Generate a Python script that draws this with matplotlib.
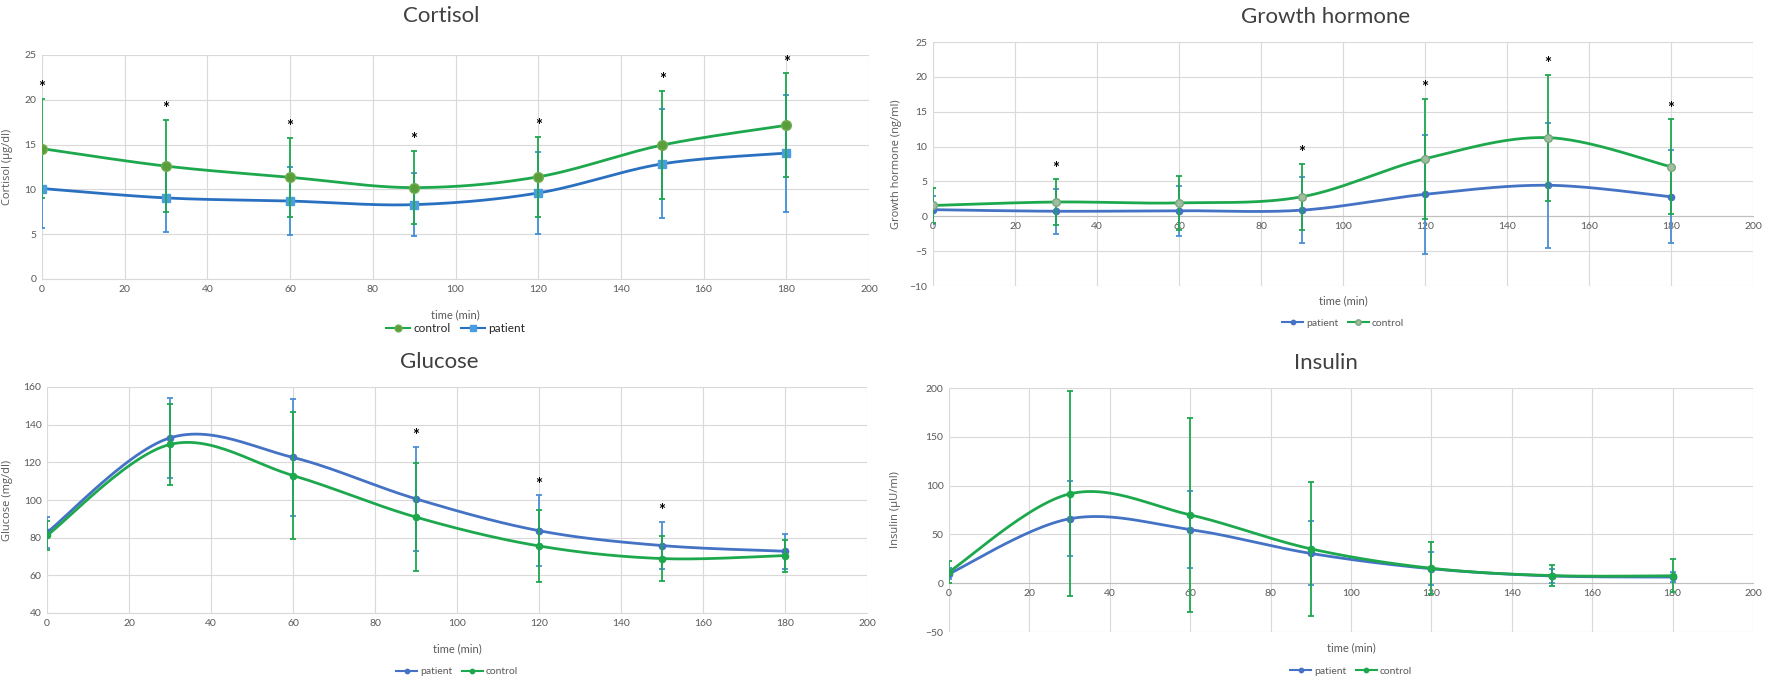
import matplotlib
matplotlib.use('Agg')
import matplotlib.pyplot as plt
from matplotlib.lines import Line2D
import numpy as np

# time points (min)
time = [0, 30, 60, 90, 120, 150, 180]

# Cortisol (ug/dl)
cortisol_patient = [10.1, 9.05, 8.7, 8.3, 9.6, 12.85, 14.05]
cortisol_patient_sd = [4.4, 3.8, 3.75, 3.55, 4.58, 6.09, 6.54]
cortisol_control = [14.55, 12.6, 11.35, 10.2, 11.4, 14.95, 17.15]
cortisol_control_sd = [5.55, 5.15, 4.42, 4.1, 4.43, 6.05, 5.8]
cortisol_sig = [0, 30, 60, 90, 120, 150, 180]

# Growth hormone (ng/ml)
gh_patient = [0.95, 0.72, 0.8, 0.88, 3.15, 4.45, 2.8]
gh_patient_sd = [2.0, 3.2, 3.6, 4.7, 8.55, 8.95, 6.65]
gh_control = [1.55, 2.05, 1.92, 2.8, 8.25, 11.28, 7.1]
gh_control_sd = [2.5, 3.25, 3.9, 4.75, 8.6, 9.05, 6.8]
gh_sig = [30, 90, 120, 150, 180]

# Glucose (mg/dl)
glucose_patient = [82.8, 133.0, 122.6, 100.6, 83.7, 75.8, 72.8]
glucose_patient_sd = [8.2, 21.1, 30.9, 27.8, 18.8, 12.5, 9.3]
glucose_control = [81.2, 129.5, 113.0, 90.9, 75.6, 68.9, 70.5]
glucose_control_sd = [7.7, 21.6, 33.6, 28.5, 19.3, 11.9, 8.5]
glucose_sig = [90, 120, 150]

# Insulin (uU/ml)
insulin_patient = [9.6, 66.0, 55.0, 30.5, 14.8, 7.4, 6.3]
insulin_patient_sd = [5.8, 38.6, 39.6, 32.8, 16.9, 6.9, 5.5]
insulin_control = [11.6, 91.5, 70.0, 35.2, 15.3, 7.8, 7.6]
insulin_control_sd = [11.6, 105.0, 99.0, 68.6, 26.8, 10.5, 16.8]

W, H = 1772, 687
fig = plt.figure(figsize=(W / 100, H / 100), dpi=100)
plt.rcParams['font.family'] = ['Lato', 'DejaVu Sans']

GREEN = '#1ea84e'
BLUE_C = '#2a70c0'
BLUE = '#4472c4'
TICK = '#595959'
GRID = '#d9d9d9'


def smooth(x, y, n=30):
    # Excel-like smoothed line (Catmull-Rom through the points)
    x = np.asarray(x, float)
    y = np.asarray(y, float)
    px = np.concatenate([[x[0]], x, [x[-1]]])
    py = np.concatenate([[y[0]], y, [y[-1]]])
    xs, ys = [], []
    for i in range(1, len(px) - 2):
        p0, p1, p2, p3 = [np.array([px[j], py[j]]) for j in (i - 1, i, i + 1, i + 2)]
        c1 = p1 + (p2 - p0) / 6
        c2 = p2 - (p3 - p1) / 6
        t = np.linspace(0, 1, n)[:, None]
        b = (1 - t) ** 3 * p1 + 3 * (1 - t) ** 2 * t * c1 + 3 * (1 - t) * t ** 2 * c2 + t ** 3 * p2
        xs.append(b[:, 0])
        ys.append(b[:, 1])
    return np.concatenate(xs), np.concatenate(ys)


def panel(rect, title, title_xy, ylabel, ylabel_x, ylim, ystep, series,
          sig, zero_axis, xlabel_y, legend_y, legend_size, legend_color):
    ax = fig.add_axes(rect)
    ax.set_xlim(0, 200)
    ax.set_ylim(*ylim)
    ax.set_xticks(np.arange(0, 201, 20))
    ax.set_yticks(np.arange(ylim[0], ylim[1] + 0.01, ystep))
    ax.grid(True, color=GRID, linewidth=0.8)
    ax.set_axisbelow(True)
    for s in ['top', 'right', 'left']:
        ax.spines[s].set_visible(False)
    if zero_axis:
        ax.spines['bottom'].set_position(('data', 0))
        ax.spines['bottom'].set_color('#bfbfbf')
    else:
        ax.spines['bottom'].set_color(GRID)
    ax.tick_params(length=0, labelsize=7.5, labelcolor=TICK, pad=4)

    handles = []
    tops = np.zeros(len(time))
    for s in series:
        sx, sy = smooth(time, s['y'])
        ax.plot(sx, sy, color=s['line'], lw=2, zorder=s['z'], solid_capstyle='round')
        ax.errorbar(time, s['y'], yerr=s['sd'], fmt='none', ecolor=s['err'],
                    elinewidth=1.3, capsize=2, capthick=1.3, zorder=s['z'])
        ax.plot(time, s['y'], ls='none', marker=s['marker'], ms=s['ms'],
                mfc=s['mfc'], mec=s['mec'], zorder=s['z'] + 0.5)
        tops = np.maximum(tops, np.array(s['y']) + np.array(s['sd']))
        handles.append(Line2D([], [], color=s['line'], lw=1.5, marker=s['marker'],
                              ms=s['ms'] * 0.7, mfc=s['mfc'], mec=s['mec'], label=s['name']))

    for t in sig:
        i = time.index(t)
        ax.annotate('*', xy=(t, tops[i]), xytext=(0, 2), textcoords='offset points',
                    ha='center', va='bottom', fontsize=12, fontweight='bold', color='black')

    ax.set_xlabel('time (min)', fontsize=8, color=TICK)
    ax.xaxis.set_label_coords(0.5, xlabel_y)
    ax.set_ylabel(ylabel, fontsize=8, color=TICK, family=['Open Sans', 'DejaVu Sans'])
    ax.yaxis.set_label_coords(ylabel_x, 0.5)
    ax.legend(handles=handles, loc='center', bbox_to_anchor=(0.5, legend_y), ncol=2,
              frameon=False, fontsize=legend_size, labelcolor=legend_color,
              handlelength=2.0, columnspacing=0.9, handletextpad=0.3,
              borderpad=0.1)
    fig.text(title_xy[0] / W, 1 - title_xy[1] / H, title, ha='center', va='center',
             fontsize=16, color='#404040')
    return ax


# Cortisol
panel([42 / W, 1 - 279 / H, 827 / W, 224 / H], 'Cortisol', (441, 16),
      'Cortisol (µg/dl)', -0.035, (0, 25), 5,
      [dict(name='control', y=cortisol_control, sd=cortisol_control_sd, line=GREEN,
            err=GREEN, marker='o', ms=7, mfc='#5a9e3c', mec='#6fae4f', z=4),
       dict(name='patient', y=cortisol_patient, sd=cortisol_patient_sd, line=BLUE_C,
            err='#3f8fd8', marker='s', ms=6, mfc='#4a9ee0', mec='#4a9ee0', z=3)],
      cortisol_sig, False, -0.135, -0.22, 8.5, '#262626')

# Growth hormone
panel([933 / W, 1 - 286 / H, 820 / W, 244 / H], 'Growth hormone', (1326, 17),
      'Growth hormone (ng/ml)', -0.038, (-10, 25), 5,
      [dict(name='patient', y=gh_patient, sd=gh_patient_sd, line=BLUE,
            err='#4a8fd4', marker='o', ms=4.5, mfc=BLUE, mec=BLUE, z=3),
       dict(name='control', y=gh_control, sd=gh_control_sd, line=GREEN,
            err=GREEN, marker='o', ms=5.5, mfc='#9dbf9f', mec='#7aa57d', z=4)],
      gh_sig, True, -0.037, -0.152, 7.5, TICK)

# Glucose
panel([47 / W, 1 - 613 / H, 820 / W, 226 / H], 'Glucose', (439, 362),
      'Glucose (mg/dl)', -0.041, (40, 160), 20,
      [dict(name='patient', y=glucose_patient, sd=glucose_patient_sd, line=BLUE,
            err='#4a8fd4', marker='o', ms=4.5, mfc=BLUE, mec=BLUE, z=3),
       dict(name='control', y=glucose_control, sd=glucose_control_sd, line=GREEN,
            err=GREEN, marker='o', ms=4.5, mfc=GREEN, mec=GREEN, z=4)],
      glucose_sig, False, -0.135, -0.26, 7.5, TICK)

# Insulin
panel([949 / W, 1 - 632 / H, 804 / W, 244 / H], 'Insulin', (1326, 363),
      'Insulin (µU/ml)', -0.06, (-50, 200), 50,
      [dict(name='patient', y=insulin_patient, sd=insulin_patient_sd, line=BLUE,
            err='#4a8fd4', marker='o', ms=4.5, mfc=BLUE, mec=BLUE, z=3),
       dict(name='control', y=insulin_control, sd=insulin_control_sd, line=GREEN,
            err=GREEN, marker='o', ms=4.5, mfc=GREEN, mec=GREEN, z=4)],
      [], True, -0.041, -0.16, 7.5, TICK)

fig.savefig('out.png', dpi=100, facecolor='white')
